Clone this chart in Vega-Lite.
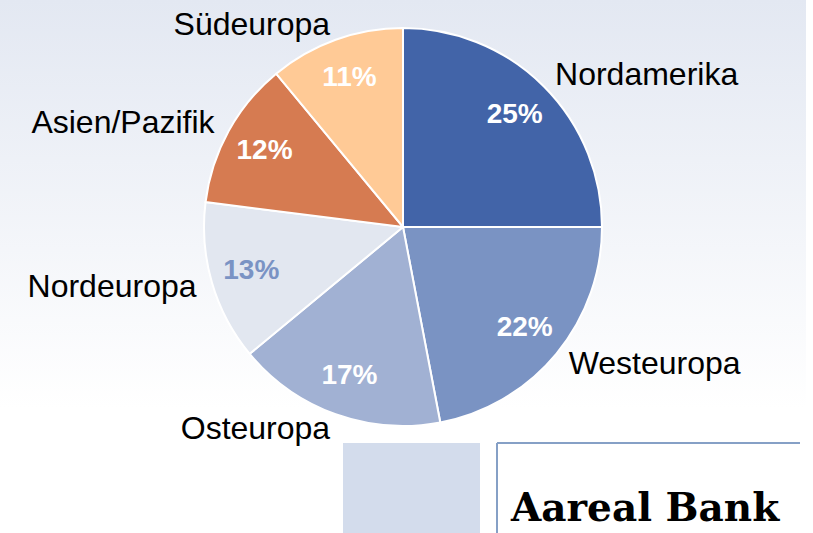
{
  "$schema": "https://vega.github.io/schema/vega-lite/v6.json",
  "width": 806,
  "height": 454,
  "autosize": {"type": "none"},
  "padding": {"left": 0, "top": 0, "right": 7, "bottom": 79},
  "background": "#ffffff",
  "config": {"view": {"stroke": null}, "font": "Liberation Sans"},
  "datasets": {
    "regions": [
      {"region": "Nordamerika", "share": 25, "order": 1},
      {"region": "Westeuropa", "share": 22, "order": 2},
      {"region": "Osteuropa", "share": 17, "order": 3},
      {"region": "Nordeuropa", "share": 13, "order": 4},
      {"region": "Asien/Pazifik", "share": 12, "order": 5},
      {"region": "Südeuropa", "share": 11, "order": 6}
    ]
  },
  "layer": [
    {
      "data": {"values": [{}]},
      "mark": {
        "type": "rect",
        "fill": {
          "gradient": "linear", "x1": 0, "y1": 0, "x2": 0, "y2": 1,
          "stops": [
            {"offset": 0, "color": "#E3E8F2"},
            {"offset": 0.9, "color": "#FFFFFF"},
            {"offset": 1, "color": "#FFFFFF"}
          ]
        }
      },
      "encoding": {"x": {"value": 0}, "x2": {"value": "width"}, "y": {"value": 0}, "y2": {"value": "height"}}
    },
    {
      "data": {"name": "regions"},
      "transform": [
        {"stack": "share", "groupby": [], "sort": [{"field": "order"}], "as": ["start", "end"]}
      ],
      "mark": {"type": "arc", "outerRadius": 199, "stroke": "#ffffff", "strokeWidth": 2},
      "encoding": {
        "theta": {"field": "start", "type": "quantitative", "stack": null, "scale": {"domain": [0, 100], "range": [0, 6.283185307]}},
        "theta2": {"field": "end"},
        "color": {
          "field": "region", "type": "nominal", "legend": null,
          "scale": {
            "domain": ["Nordamerika", "Westeuropa", "Osteuropa", "Nordeuropa", "Asien/Pazifik", "Südeuropa"],
            "range": ["#4264A8", "#7A93C3", "#A1B1D3", "#E2E7F0", "#D67B51", "#FFCA96"]
          }
        }
      }
    },
    {
      "data": {"name": "regions"},
      "transform": [
        {"stack": "share", "groupby": [], "sort": [{"field": "order"}], "as": ["start", "end"]},
        {"calculate": "(datum.start + datum.end) / 2", "as": "mid"},
        {"calculate": "datum.share + '%'", "as": "label"}
      ],
      "mark": {"type": "text", "radius": 158, "fontSize": 28, "fontWeight": "bold", "font": "Liberation Sans", "baseline": "middle", "align": "center"},
      "encoding": {
        "theta": {"field": "mid", "type": "quantitative", "stack": null, "scale": {"domain": [0, 100], "range": [0, 6.283185307]}},
        "text": {"field": "label"},
        "color": {"condition": {"test": "datum.region === 'Nordeuropa'", "value": "#7A93C4"}, "value": "#FFFFFF"}
      }
    },
    {
      "data": {"name": "regions"},
      "transform": [
        {"stack": "share", "groupby": [], "sort": [{"field": "order"}], "as": ["start", "end"]},
        {"calculate": "(datum.start + datum.end) / 2", "as": "mid"},
        {"filter": "datum.mid < 50"}
      ],
      "mark": {"type": "text", "radius": 215, "fontSize": 32, "font": "Liberation Sans", "baseline": "middle", "align": "left", "color": "#000000"},
      "encoding": {
        "theta": {"field": "mid", "type": "quantitative", "stack": null, "scale": {"domain": [0, 100], "range": [0, 6.283185307]}},
        "text": {"field": "region"}
      }
    },
    {
      "data": {"name": "regions"},
      "transform": [
        {"stack": "share", "groupby": [], "sort": [{"field": "order"}], "as": ["start", "end"]},
        {"calculate": "(datum.start + datum.end) / 2", "as": "mid"},
        {"filter": "datum.mid >= 50"}
      ],
      "mark": {"type": "text", "radius": 215, "fontSize": 32, "font": "Liberation Sans", "baseline": "middle", "align": "right", "color": "#000000"},
      "encoding": {
        "theta": {"field": "mid", "type": "quantitative", "stack": null, "scale": {"domain": [0, 100], "range": [0, 6.283185307]}},
        "text": {"field": "region"}
      }
    },
    {
      "data": {"values": [{}]},
      "mark": {"type": "rect", "fill": "#D3DCEC"},
      "encoding": {"x": {"value": 343}, "x2": {"value": 480}, "y": {"value": 443}, "y2": {"value": 545}}
    },
    {
      "data": {"values": [{}]},
      "mark": {"type": "rule", "color": "#86A0C6", "strokeWidth": 2},
      "encoding": {"x": {"value": 497}, "x2": {"value": 800}, "y": {"value": 443}}
    },
    {
      "data": {"values": [{}]},
      "mark": {"type": "rule", "color": "#86A0C6", "strokeWidth": 2},
      "encoding": {"x": {"value": 497}, "y": {"value": 443}, "y2": {"value": 545}}
    },
    {
      "data": {"values": [{"name": "Aareal Bank"}]},
      "mark": {"type": "text", "font": "DejaVu Serif", "fontWeight": "bold", "fontSize": 39, "align": "left", "baseline": "alphabetic", "color": "#000000"},
      "encoding": {"x": {"value": 511}, "y": {"value": 521}, "text": {"field": "name"}}
    }
  ]
}
